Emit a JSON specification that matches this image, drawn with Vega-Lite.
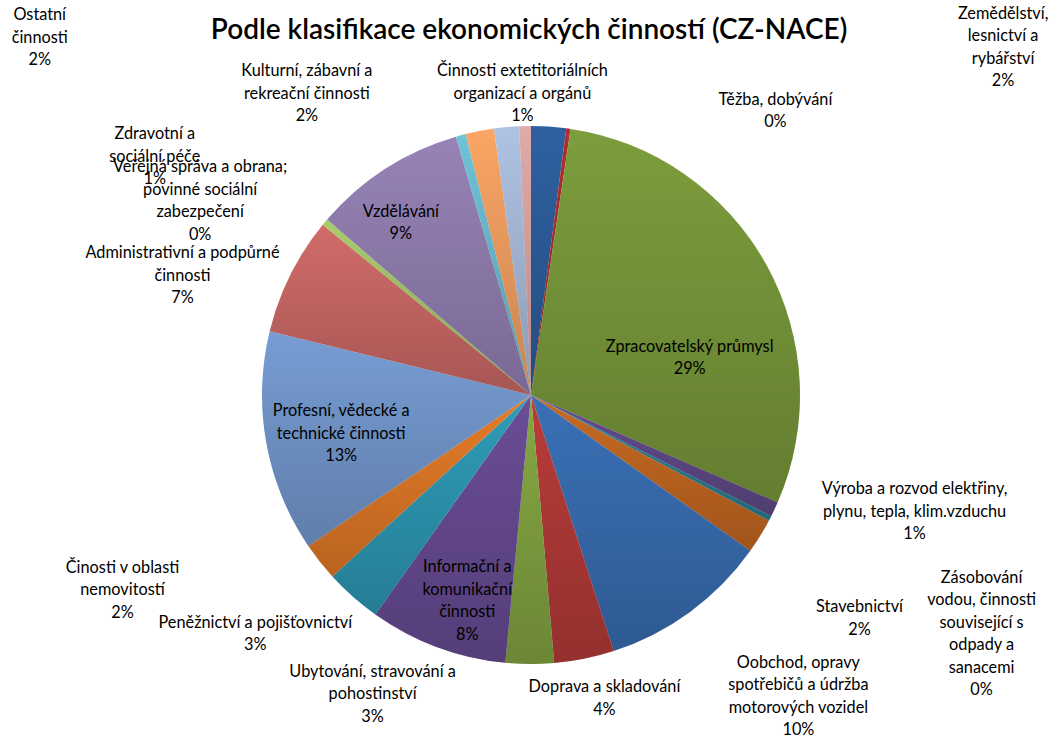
{
  "$schema": "https://vega.github.io/schema/vega-lite/v6.json",
  "width": 1062,
  "height": 790,
  "autosize": {"type": "none"},
  "padding": 0,
  "background": "white",
  "config": {"view": {"stroke": null}, "text": {"font": "Lato", "fontSize": 16.3, "lineHeight": 22.5, "align": "center", "baseline": "middle", "color": "#000000"}},
  "title": {"text": "Podle klasifikace ekonomických činností (CZ-NACE)", "font": "Lato", "fontSize": 28, "fontWeight": 600, "color": "#000000", "anchor": "middle", "offset": -45, "dx": -2},
  "data": {"values": [
    {"nace": "A", "v": 2.1, "label": ["Zemědělství,", "lesnictví a", "rybářství", "2%"]},
    {"nace": "B", "v": 0.25, "label": ["Těžba, dobývání", "0%"]},
    {"nace": "C", "v": 29.2, "label": ["Zpracovatelský průmysl", "29%"]},
    {"nace": "D", "v": 0.9, "label": ["Výroba a rozvod elektřiny,", "plynu, tepla, klim.vzduchu", "1%"]},
    {"nace": "E", "v": 0.3, "label": ["Zásobování", "vodou, činnosti", "související s", "odpady a", "sanacemi", "0%"]},
    {"nace": "F", "v": 2.1, "label": ["Stavebnictví", "2%"]},
    {"nace": "G", "v": 10.2, "label": ["Oobchod, opravy", "spotřebičů a údržba", "motorových vozidel", "10%"]},
    {"nace": "H", "v": 3.6, "label": ["Doprava a skladování", "4%"]},
    {"nace": "I", "v": 2.9, "label": ["Ubytování, stravování a", "pohostinství", "3%"]},
    {"nace": "J", "v": 8.3, "label": ["Informační a", "komunikační", "činnosti", "8%"]},
    {"nace": "K", "v": 3.4, "label": ["Peněžnictví a pojišťovnictví", "3%"]},
    {"nace": "L", "v": 2.3, "label": ["Činosti v oblasti", "nemovitostí", "2%"]},
    {"nace": "M", "v": 13.3, "label": ["Profesní, vědecké a", "technické činnosti", "13%"]},
    {"nace": "N", "v": 7.1, "label": ["Administrativní a podpůrné", "činnosti", "7%"]},
    {"nace": "O", "v": 0.4, "label": ["Veřejná správa a obrana;", "povinné sociální", "zabezpečení", "0%"]},
    {"nace": "P", "v": 9.2, "label": ["Vzdělávání", "9%"]},
    {"nace": "Q", "v": 0.6, "label": ["Zdravotní a", "sociální péče", "1%"]},
    {"nace": "R", "v": 1.7, "label": ["Kulturní, zábavní a", "rekreační činnosti", "2%"]},
    {"nace": "S", "v": 1.5, "label": ["Ostatní", "činnosti", "2%"]},
    {"nace": "U", "v": 0.7, "label": ["Činnosti extetitoriálních", "organizací a orgánů", "1%"]}
  ]},
  "encoding": {
    "theta": {"field": "v", "type": "quantitative", "stack": true},
    "order": {"field": "nace", "type": "ordinal"}
  },
  "layer": [
    {"mark": {"type": "arc", "outerRadius": 269},
     "encoding": {"color": {"field": "nace", "type": "nominal", "legend": null,
       "scale": {"domain": ["A","B","C","D","E","F","G","H","I","J","K","L","M","N","O","P","Q","R","S","U"],
                 "range": ["#2E60A0","#B0302E","#7C9D3C","#634C8C","#2A8298","#C86A22","#3A70B6","#B83C39","#86A843","#6A4D96","#2F9CB8","#E67C28","#779DD4","#D06C69","#A9CC6C","#9783B7","#6FC2D8","#FAA565","#AEC2E2","#E0ABAA"]}}}},
    {"mark": {"type": "arc", "outerRadius": 269,
      "fill": {"gradient": "linear", "x1": 0, "y1": 0, "x2": 0, "y2": 1,
               "stops": [{"offset": 0, "color": "rgba(0,0,0,0)"}, {"offset": 1, "color": "rgba(0,0,0,0.2)"}]}},
     "encoding": {"detail": {"field": "nace"}}},
    {"mark": {"type": "text", "radius": 290, "dx": 453, "dy": -92}, "encoding": {"detail": {"field": "nace"}, "text": {"condition": {"test": "datum.nace == 'A'", "field": "label", "type": "nominal"}, "value": ""}}},
    {"mark": {"type": "text", "radius": 290, "dx": 204, "dy": -8}, "encoding": {"detail": {"field": "nace"}, "text": {"condition": {"test": "datum.nace == 'B'", "field": "label", "type": "nominal"}, "value": ""}}},
    {"mark": {"type": "text", "radius": 170, "dx": 10, "dy": 34}, "encoding": {"detail": {"field": "nace"}, "text": {"condition": {"test": "datum.nace == 'C'", "field": "label", "type": "nominal"}, "value": ""}}},
    {"mark": {"type": "text", "radius": 300, "dx": 112, "dy": -33}, "encoding": {"detail": {"field": "nace"}, "text": {"condition": {"test": "datum.nace == 'D'", "field": "label", "type": "nominal"}, "value": ""}}},
    {"mark": {"type": "text", "radius": 300, "dx": 184, "dy": 45}, "encoding": {"detail": {"field": "nace"}, "text": {"condition": {"test": "datum.nace == 'E'", "field": "label", "type": "nominal"}, "value": ""}}},
    {"mark": {"type": "text", "radius": 300, "dx": 73, "dy": 55}, "encoding": {"detail": {"field": "nace"}, "text": {"condition": {"test": "datum.nace == 'F'", "field": "label", "type": "nominal"}, "value": ""}}},
    {"mark": {"type": "text", "radius": 300, "dx": 90, "dy": 26}, "encoding": {"detail": {"field": "nace"}, "text": {"condition": {"test": "datum.nace == 'G'", "field": "label", "type": "nominal"}, "value": ""}}},
    {"mark": {"type": "text", "radius": 300, "dx": 14, "dy": -2}, "encoding": {"detail": {"field": "nace"}, "text": {"condition": {"test": "datum.nace == 'H'", "field": "label", "type": "nominal"}, "value": ""}}},
    {"mark": {"type": "text", "radius": 300, "dx": -157, "dy": -23}, "encoding": {"detail": {"field": "nace"}, "text": {"condition": {"test": "datum.nace == 'I'", "field": "label", "type": "nominal"}, "value": ""}}},
    {"mark": {"type": "text", "radius": 220, "dx": 13, "dy": -34}, "encoding": {"detail": {"field": "nace"}, "text": {"condition": {"test": "datum.nace == 'J'", "field": "label", "type": "nominal"}, "value": ""}}},
    {"mark": {"type": "text", "radius": 300, "dx": -77, "dy": 3}, "encoding": {"detail": {"field": "nace"}, "text": {"condition": {"test": "datum.nace == 'K'", "field": "label", "type": "nominal"}, "value": ""}}},
    {"mark": {"type": "text", "radius": 300, "dx": -173, "dy": -13}, "encoding": {"detail": {"field": "nace"}, "text": {"condition": {"test": "datum.nace == 'L'", "field": "label", "type": "nominal"}, "value": ""}}},
    {"mark": {"type": "text", "radius": 200, "dx": 7, "dy": -19}, "encoding": {"detail": {"field": "nace"}, "text": {"condition": {"test": "datum.nace == 'M'", "field": "label", "type": "nominal"}, "value": ""}}},
    {"mark": {"type": "text", "radius": 300, "dx": -80, "dy": -8}, "encoding": {"detail": {"field": "nace"}, "text": {"condition": {"test": "datum.nace == 'N'", "field": "label", "type": "nominal"}, "value": ""}}},
    {"mark": {"type": "text", "radius": 300, "dx": -101, "dy": -35}, "encoding": {"detail": {"field": "nace"}, "text": {"condition": {"test": "datum.nace == 'O'", "field": "label", "type": "nominal"}, "value": ""}}},
    {"mark": {"type": "text", "radius": 200, "dx": -22, "dy": -15}, "encoding": {"detail": {"field": "nace"}, "text": {"condition": {"test": "datum.nace == 'P'", "field": "label", "type": "nominal"}, "value": ""}}},
    {"mark": {"type": "text", "radius": 300, "dx": -298, "dy": 29}, "encoding": {"detail": {"field": "nace"}, "text": {"condition": {"test": "datum.nace == 'Q'", "field": "label", "type": "nominal"}, "value": ""}}},
    {"mark": {"type": "text", "radius": 300, "dx": -167, "dy": -29}, "encoding": {"detail": {"field": "nace"}, "text": {"condition": {"test": "datum.nace == 'R'", "field": "label", "type": "nominal"}, "value": ""}}},
    {"mark": {"type": "text", "radius": 300, "dx": -464, "dy": -81}, "encoding": {"detail": {"field": "nace"}, "text": {"condition": {"test": "datum.nace == 'S'", "field": "label", "type": "nominal"}, "value": ""}}},
    {"mark": {"type": "text", "radius": 300, "dx": -2, "dy": -24}, "encoding": {"detail": {"field": "nace"}, "text": {"condition": {"test": "datum.nace == 'U'", "field": "label", "type": "nominal"}, "value": ""}}}
  ]
}
